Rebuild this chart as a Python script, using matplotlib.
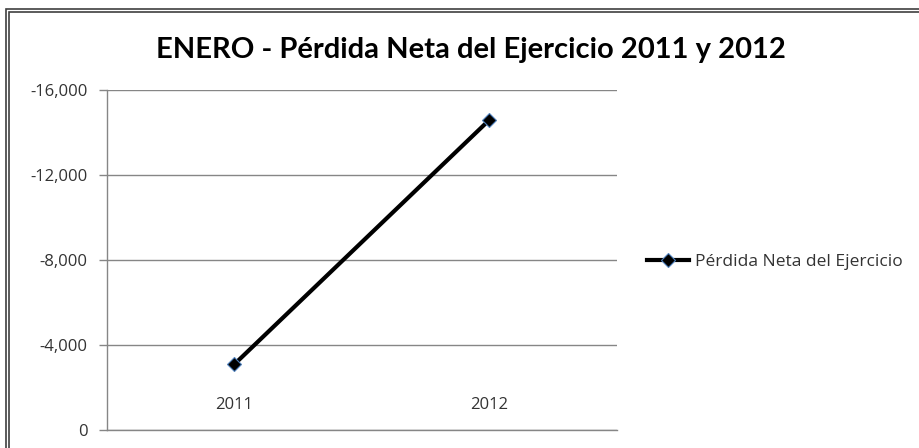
import matplotlib.pyplot as plt
from matplotlib.patches import Rectangle
from matplotlib.ticker import FuncFormatter

# data
years = ['2011', '2012']
perdida = [-3100, -14600]
y_ticks = [0, -4000, -8000, -12000, -16000]

plt.rcParams['font.family'] = ['Open Sans', 'DejaVu Sans']

W, H = 919, 448
fig = plt.figure(figsize=(W / 100, H / 100), dpi=100)

# double border of the chart area
fig.patches.append(Rectangle((6 / W, -0.05), 1.1, (H - 9) / H + 0.05, transform=fig.transFigure,
                             fill=False, edgecolor='#404040', linewidth=1.2))
fig.patches.append(Rectangle((9 / W, -0.05), 1.1, (H - 12) / H + 0.05, transform=fig.transFigure,
                             fill=False, edgecolor='#404040', linewidth=1.2))

ax = fig.add_axes([107 / W, 18 / H, 510 / W, 340 / H])
x = range(len(years))
ax.plot(x, perdida, color='black', linewidth=3, marker='D', markersize=7,
        markerfacecolor='black', markeredgecolor='#4f81bd', markeredgewidth=0.8,
        label='Pérdida Neta del Ejercicio', zorder=3)

ax.set_xlim(-0.5, len(years) - 0.5)
ax.set_ylim(0, -16000)
ax.set_yticks(y_ticks)
ax.yaxis.set_major_formatter(FuncFormatter(lambda v, p: f'{v:,.0f}'))
ax.set_xticks(list(x))
ax.set_xticklabels(years)
ax.tick_params(axis='x', length=0, pad=-24, labelsize=12, colors='#333333')
ax.tick_params(axis='y', length=6, width=1, color='#868686', labelsize=12,
               labelcolor='#333333', pad=8)
ax.grid(axis='y', color='#868686', linewidth=1)
ax.set_axisbelow(True)
for s in ['top', 'right']:
    ax.spines[s].set_visible(False)
for s in ['left', 'bottom']:
    ax.spines[s].set_color('#868686')
    ax.spines[s].set_linewidth(1)

fig.text(471 / W, 1 - 50 / H, 'ENERO - Pérdida Neta del Ejercicio 2011 y 2012',
         ha='center', va='center', fontsize=21, fontweight='bold', color='black',
         family=['Lato', 'DejaVu Sans'])

ax.legend(loc='center left', bbox_to_anchor=(647 / W, 1 - 262 / H),
          bbox_transform=fig.transFigure, frameon=False, fontsize=12.5,
          borderpad=0, borderaxespad=0, handlelength=2.4, handletextpad=0.35,
          labelcolor='#333333')

fig.savefig('out.png', dpi=100)
